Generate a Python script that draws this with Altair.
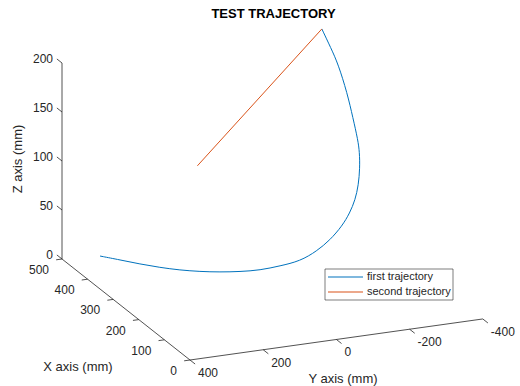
import altair as alt
import pandas as pd

# ---------------- data (mm) ----------------
traj1_x = [490, 462, 433, 407, 384, 366, 352, 338, 328, 326, 322, 338, 364, 391, 421,
           427, 430, 443, 453, 455, 460, 461, 465, 466, 490]
traj1_y = [303, 268, 234, 198, 159, 117, 72, 27, -21, -74, -126, -183, -237, -289, -331,
           -350, -361, -374, -380, -377, -367, -352, -330, -311, -303]
traj1_z = [0, 0, 0, 0, 0, 0, 0, 1, 2, 4, 7, 11, 14, 20, 25,
           36, 50, 64, 78, 90, 112, 138, 168, 185, 200]

traj2_x = [490, 400]
traj2_y = [-303, 100]
traj2_z = [200, 100]

series_names = ["first trajectory", "second trajectory"]
series_colors = ["#0072BD", "#D95319"]

x_ticks = [0, 100, 200, 300, 400, 500]
y_ticks = [400, 200, 0, -200, -400]
z_ticks = [0, 50, 100, 150, 200]
x_lim = (0, 500)
y_lim = (-400, 400)
z_lim = (0, 200)

title_text = "TEST TRAJECTORY"
x_title = "X axis (mm)"
y_title = "Y axis (mm)"
z_title = "Z axis (mm)"

# ---------------- view / projection ----------------
W, H = 520, 386
ORIGIN = (62.0, 259.0)      # screen position of (x_max, y_max, z_min)
EX = (0.256, 0.202)         # px per mm when X decreases
EY = (0.366, -0.0513)       # px per mm when Y decreases
EZ = 0.98                   # px per mm of Z (upwards)
FONT = "Liberation Sans"
AXC = "#262626"


def proj(X, Y, Z):
    a = x_lim[1] - X
    b = y_lim[1] - Y
    sx = ORIGIN[0] + a * EX[0] + b * EY[0]
    sy = ORIGIN[1] + a * EX[1] + b * EY[1] - (Z - z_lim[0]) * EZ
    return sx, sy


xs = alt.Scale(domain=[0, W], nice=False, zero=False)
ys = alt.Scale(domain=[0, H], nice=False, zero=False, reverse=True)

# trajectories
rows = []
for name, X, Y, Z in [(series_names[0], traj1_x, traj1_y, traj1_z),
                      (series_names[1], traj2_x, traj2_y, traj2_z)]:
    for i, (a, b, c) in enumerate(zip(X, Y, Z)):
        sx, sy = proj(a, b, c)
        rows.append({"series": name, "order": i, "sx": sx, "sy": sy})
traj_df = pd.DataFrame(rows)

# axis lines
segs = []
for p, q in [((x_lim[1], y_lim[1], z_lim[0]), (x_lim[1], y_lim[1], z_lim[1])),
             ((x_lim[1], y_lim[1], z_lim[0]), (x_lim[0], y_lim[1], z_lim[0])),
             ((x_lim[0], y_lim[1], z_lim[0]), (x_lim[0], y_lim[0], z_lim[0]))]:
    s1 = proj(*p)
    s2 = proj(*q)
    segs.append({"x1": s1[0], "y1": s1[1], "x2": s2[0], "y2": s2[1]})

# ticks + labels
lab_z, lab_x, lab_y = [], [], []
for z in z_ticks:
    s1 = proj(x_lim[1], y_lim[1], z)
    s2 = proj(x_lim[1] + 20, y_lim[1], z)
    segs.append({"x1": s1[0], "y1": s1[1], "x2": s2[0], "y2": s2[1]})
    lab_z.append({"sx": s1[0], "sy": s1[1], "t": str(z)})
for x in x_ticks:
    s1 = proj(x, y_lim[1], z_lim[0])
    s2 = proj(x, y_lim[1] + 16, z_lim[0])
    segs.append({"x1": s1[0], "y1": s1[1], "x2": s2[0], "y2": s2[1]})
    lab_x.append({"sx": s1[0], "sy": s1[1], "t": str(x)})
for y in y_ticks:
    s1 = proj(x_lim[0], y, z_lim[0])
    s2 = proj(x_lim[0] - 20, y, z_lim[0])
    segs.append({"x1": s1[0], "y1": s1[1], "x2": s2[0], "y2": s2[1]})
    lab_y.append({"sx": s1[0], "sy": s1[1], "t": str(y)})
seg_df = pd.DataFrame(segs)

color_scale = alt.Scale(domain=series_names, range=series_colors)

axes_layer = alt.Chart(seg_df).mark_rule(color=AXC, strokeWidth=0.8).encode(
    x=alt.X("x1:Q", scale=xs, axis=None),
    y=alt.Y("y1:Q", scale=ys, axis=None),
    x2="x2:Q", y2="y2:Q")


def labels(df, align, dx, dy):
    return alt.Chart(pd.DataFrame(df)).mark_text(
        align=align, baseline="middle", dx=dx, dy=dy, font=FONT, fontSize=12, color=AXC
    ).encode(x=alt.X("sx:Q", scale=xs, axis=None),
             y=alt.Y("sy:Q", scale=ys, axis=None), text="t:N")


zlab = labels(lab_z, "right", -9, -4)
xlab = labels(lab_x, "right", -13, 11)
ylab = labels(lab_y, "left", 8, 13)

lines = alt.Chart(traj_df).mark_line(strokeWidth=1, interpolate="basis").encode(
    x=alt.X("sx:Q", scale=xs, axis=None),
    y=alt.Y("sy:Q", scale=ys, axis=None),
    color=alt.Color("series:N", scale=color_scale, legend=None),
    order="order:Q")

# titles
txt_df = pd.DataFrame([{"t": title_text, "px": 273.5, "py": 14}])
title_layer = alt.Chart(txt_df).mark_text(
    font=FONT, fontSize=13, fontWeight="bold", color="#000000", baseline="middle", align="center"
).encode(x=alt.X("px:Q", scale=xs, axis=None), y=alt.Y("py:Q", scale=ys, axis=None), text="t:N")

at_df = pd.DataFrame([
    {"t": x_title, "px": 78, "py": 367},
    {"t": y_title, "px": 343, "py": 379},
])
atitles = alt.Chart(at_df).mark_text(
    font=FONT, fontSize=13, color=AXC, baseline="middle", align="center"
).encode(x=alt.X("px:Q", scale=xs, axis=None), y=alt.Y("py:Q", scale=ys, axis=None), text="t:N")

zt_df = pd.DataFrame([{"t": z_title, "px": 18, "py": 159}])
ztitle = alt.Chart(zt_df).mark_text(
    font=FONT, fontSize=13, color=AXC, baseline="middle", align="center", angle=270
).encode(x=alt.X("px:Q", scale=xs, axis=None), y=alt.Y("py:Q", scale=ys, axis=None), text="t:N")

# legend box
LX0, LX1, LY0, LY1 = 325, 453, 269, 300
box = alt.Chart(pd.DataFrame([{"a": LX0, "b": LX1, "c": LY0, "d": LY1}])).mark_rect(
    fill="white", stroke=AXC, strokeWidth=0.6
).encode(x=alt.X("a:Q", scale=xs, axis=None), x2="b:Q",
         y=alt.Y("c:Q", scale=ys, axis=None), y2="d:Q")

leg_df = pd.DataFrame({
    "series": series_names,
    "lx0": [328, 328], "lx1": [363, 363], "tx": [367, 367],
    "ly": [277, 292],
})
leg_lines = alt.Chart(leg_df).mark_rule(strokeWidth=1.2).encode(
    x=alt.X("lx0:Q", scale=xs, axis=None), x2="lx1:Q",
    y=alt.Y("ly:Q", scale=ys, axis=None),
    color=alt.Color("series:N", scale=color_scale, legend=None))
leg_text = alt.Chart(leg_df).mark_text(
    font=FONT, fontSize=11, color=AXC, align="left", baseline="middle"
).encode(x=alt.X("tx:Q", scale=xs, axis=None), y=alt.Y("ly:Q", scale=ys, axis=None), text="series:N")

chart = alt.layer(
    axes_layer, zlab, xlab, ylab, lines, title_layer, atitles, ztitle, box, leg_lines, leg_text
).properties(
    width=W, height=H, padding=0, autosize=alt.AutoSizeParams(type="none")
).configure_view(stroke=None)

chart.save("out.html", embed_options={"renderer": "svg", "actions": False})
